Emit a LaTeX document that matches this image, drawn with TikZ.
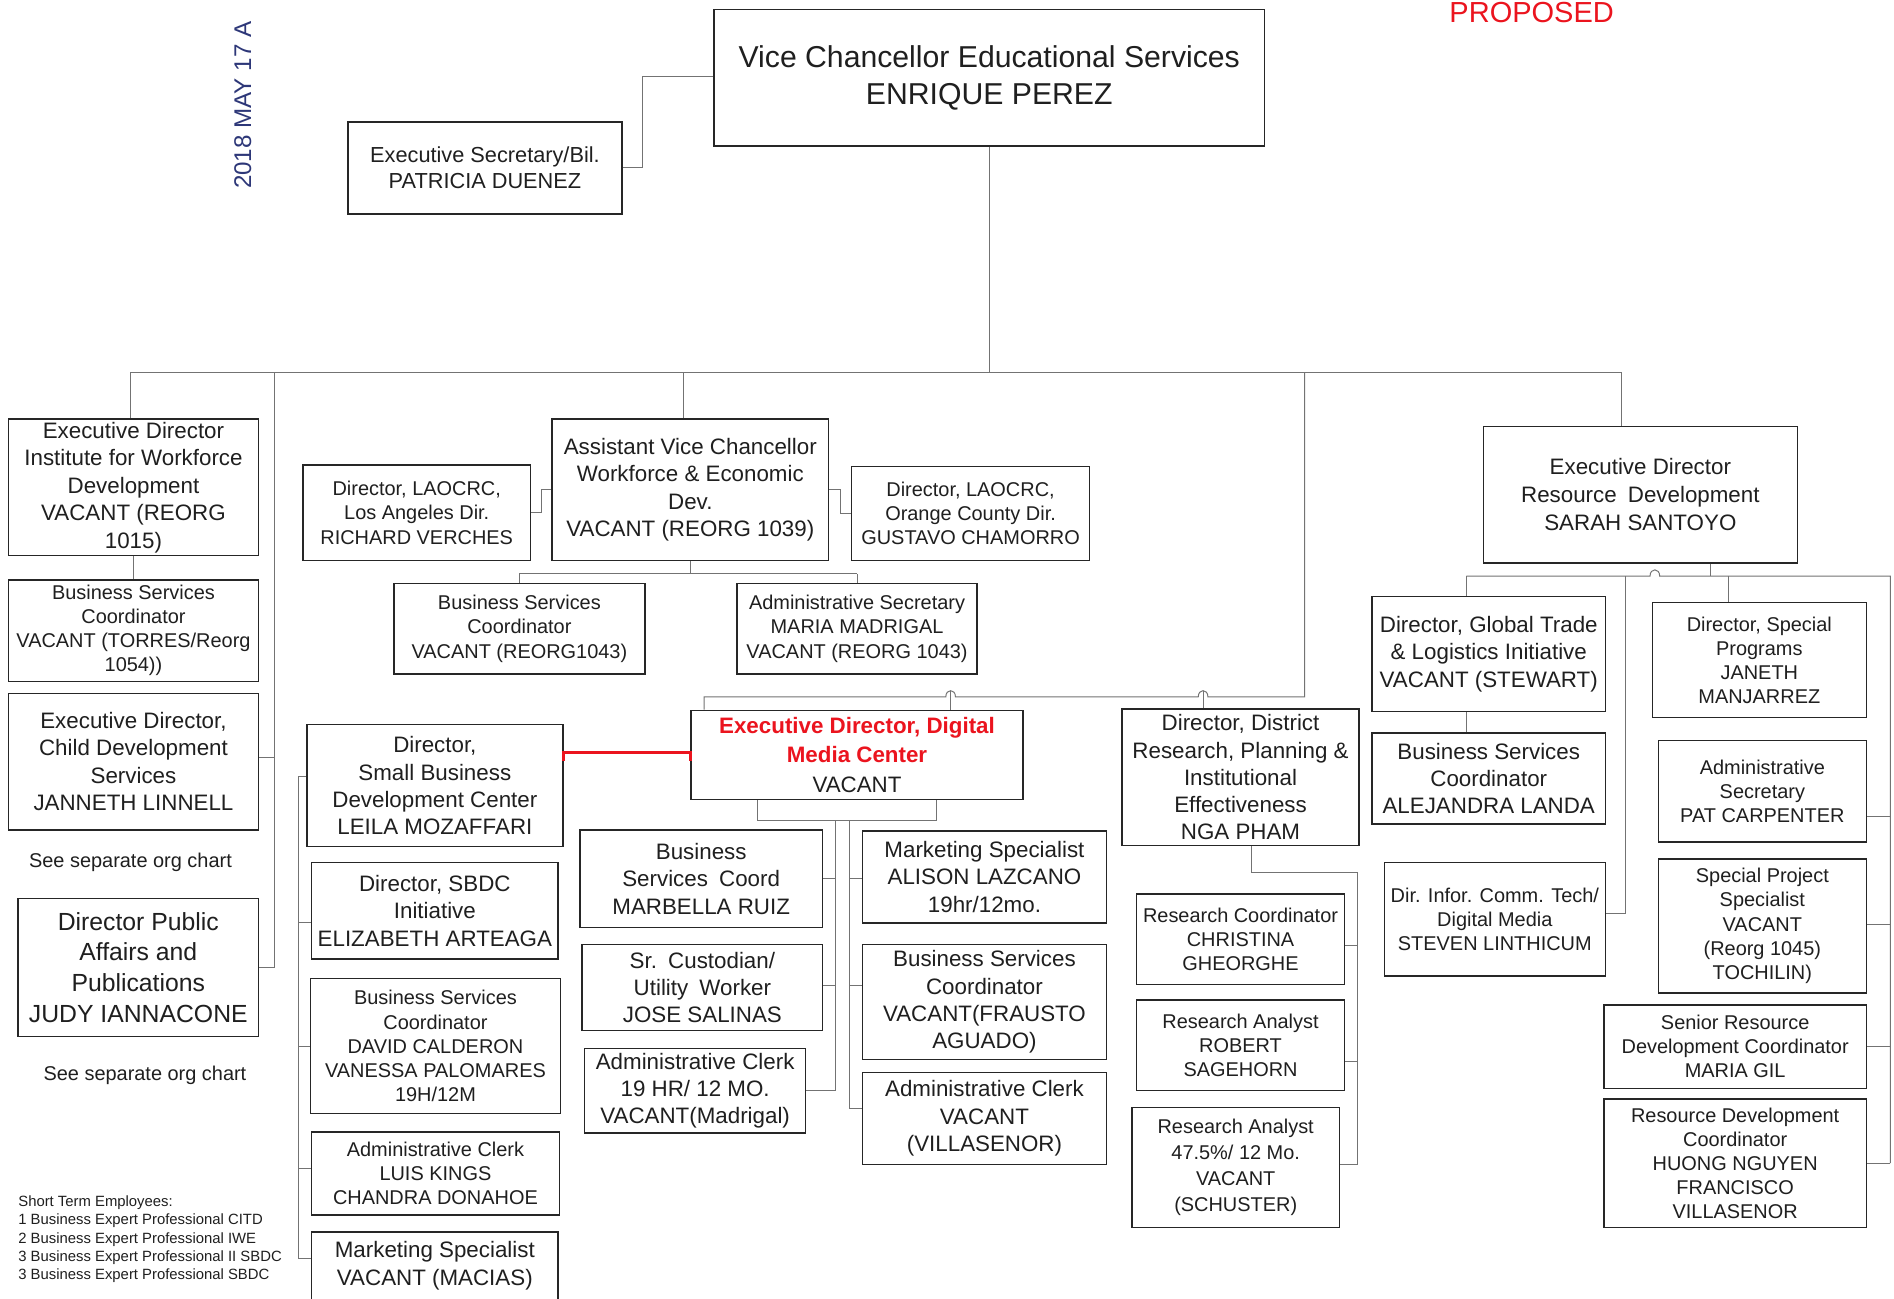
\documentclass[tikz,border=0pt]{standalone}
\usepackage{fontspec}
\setmainfont{Liberation Sans}
\definecolor{dmred}{RGB}{235,20,30}
\definecolor{stampblue}{RGB}{45,55,120}
\tikzset{
  box/.style={draw=black!85, line width=1.2pt, align=center, inner sep=0pt, text=black!88, fill=white},
  fA/.style={font=\fontsize{18.5}{22.7}\selectfont},
  fB/.style={font=\fontsize{16.5}{20}\selectfont},
  note/.style={font=\fontsize{16.5}{20}\selectfont, text=black!88},
  conn/.style={draw=black!55, line width=0.8pt},
  redline/.style={draw=dmred, line width=2.4pt},
}
\newcommand\obox[7]{\node[box,#7,minimum width={#4-#2},minimum height={#5-#3}] (#1) at ({(#2+#4)/2},{(#3+#5)/2}) {#6};}
\begin{document}
\begin{tikzpicture}[x=1pt,y=-1pt]
\path[use as bounding box] (0,0) rectangle (1568,1075);
\clip (0,0) rectangle (1568,1075);
\fill[white] (0,0) rectangle (1568,1075);

% stamp and title
\node[rotate=90, anchor=west, font=\fontsize{20}{24}\selectfont, text=stampblue] (stamp) at (201,160) {2018 MAY 17 A};
\node[font=\fontsize{24}{30}\selectfont, text=dmred, anchor=base] (prop) at (1268,19) {PROPOSED};

% boxes
\obox{vc}{591}{8}{1047}{121}{Vice Chancellor Educational Services\\ENRIQUE PEREZ}{font=\fontsize{25}{30}\selectfont}
\obox{es}{288}{101}{515}{177}{Executive Secretary/Bil.\\PATRICIA DUENEZ}{font=\fontsize{18}{22}\selectfont}
\obox{iwd}{7}{347}{214}{460}{Executive Director\\Institute for Workforce\\Development\\VACANT (REORG\\1015)}{fA}
\obox{bsc1}{7}{480}{214}{564}{Business Services\\Coordinator\\VACANT (TORRES/Reorg\\1054))}{fB}
\obox{cds}{7}{574}{214}{687}{Executive Director,\\Child Development\\Services\\JANNETH LINNELL}{fA}
\obox{pa}{15}{744}{214}{858}{Director Public\\Affairs and\\Publications\\JUDY IANNACONE}{font=\fontsize{20.5}{25.5}\selectfont}
\node[note] (sep1) at (108,714) {See separate org chart};
\node[note] (sep2) at (120,890) {See separate org chart};
\node[anchor=north west, align=left, inner sep=0pt, text=black!88, font=\fontsize{12.3}{15}\selectfont] (ste) at (15,990)
 {Short Term Employees:\\1 Business Expert Professional CITD\\2 Business Expert Professional IWE\\3 Business Expert Professional II SBDC\\3 Business Expert Professional SBDC};

\obox{lao1}{251}{385}{439}{464}{Director, LAOCRC,\\Los Angeles Dir.\\RICHARD VERCHES}{fB}
\obox{avc}{457}{347}{686}{464}{Assistant Vice Chancellor\\Workforce \& Economic\\Dev.\\VACANT (REORG 1039)}{fA}
\obox{lao2}{705}{386}{902}{464}{Director, LAOCRC,\\Orange County Dir.\\GUSTAVO CHAMORRO}{fB}
\obox{bsc2}{326}{483}{534}{558}{Business Services\\Coordinator\\VACANT (REORG1043)}{fB}
\obox{asec1}{610}{483}{809}{558}{Administrative Secretary\\MARIA MADRIGAL\\VACANT (REORG 1043)}{fB}

\obox{sbdc}{254}{600}{466}{701}{Director,\\Small Business\\Development Center\\LEILA MOZAFFARI}{fA}
\obox{sbdci}{258}{714}{462}{794}{Director, SBDC\\Initiative\\ELIZABETH ARTEAGA}{fA}
\obox{bsc3}{257}{810}{464}{922}{Business Services\\Coordinator\\DAVID CALDERON\\VANESSA PALOMARES\\19H/12M}{fB}
\obox{ac1}{258}{937}{463}{1006}{Administrative Clerk\\LUIS KINGS\\CHANDRA DONAHOE}{fB}
\obox{ms1}{258}{1020}{462}{1076}{Marketing Specialist\\VACANT (MACIAS)}{fA}

\obox{dm}{572}{588}{847}{662}{{\color{dmred}\bfseries Executive Director, Digital}\\{\color{dmred}\bfseries Media Center}\\VACANT}{font=\fontsize{18.5}{24.5}\selectfont}
\obox{bcoord}{480}{687}{681}{768}{Business\\Services\enspace Coord\\MARBELLA RUIZ}{fA}
\obox{cust}{482}{782}{681}{853}{Sr.\enspace Custodian/\\Utility\enspace Worker\\JOSE SALINAS}{fA}
\obox{ac2}{484}{868}{667}{938}{Administrative Clerk\\19 HR/ 12 MO.\\VACANT(Madrigal)}{fA}
\obox{ms2}{714}{688}{916}{764}{Marketing Specialist\\ALISON LAZCANO\\19hr/12mo.}{fA}
\obox{bsc4}{714}{782}{916}{877}{Business Services\\Coordinator\\VACANT(FRAUSTO\\AGUADO)}{fA}
\obox{ac3}{714}{888}{916}{964}{Administrative Clerk\\VACANT\\(VILLASENOR)}{fA}

\obox{dr}{929}{587}{1125}{700}{Director, District\\Research, Planning \&\\Institutional\\Effectiveness\\NGA PHAM}{font=\fontsize{18.5}{22.5}\selectfont}
\obox{rc}{941}{740}{1113}{815}{Research Coordinator\\CHRISTINA\\GHEORGHE}{fB}
\obox{ra1}{941}{828}{1113}{903}{Research Analyst\\ROBERT\\SAGEHORN}{fB}
\obox{ra2}{937}{917}{1109}{1016}{Research Analyst\\47.5\%/ 12 Mo.\\VACANT\\(SCHUSTER)}{font=\fontsize{16.5}{21.5}\selectfont}

\obox{rd}{1228}{353}{1488}{466}{Executive Director\\Resource\enspace Development\\SARAH SANTOYO}{font=\fontsize{18.5}{23}\selectfont}
\obox{gt}{1136}{494}{1329}{589}{Director, Global Trade\\\& Logistics Initiative\\VACANT (STEWART)}{fA}
\obox{bsc5}{1136}{607}{1329}{682}{Business Services\\Coordinator\\ALEJANDRA LANDA}{fA}
\obox{dict}{1146}{714}{1329}{808}{Dir. Infor. Comm. Tech/\\Digital Media\\STEVEN LINTHICUM}{fB}
\obox{spp}{1368}{499}{1545}{594}{Director, Special\\Programs\\JANETH\\MANJARREZ}{fB}
\obox{asec}{1373}{613}{1545}{697}{Administrative\\Secretary\\PAT CARPENTER}{fB}
\obox{spj}{1373}{711}{1545}{822}{Special Project\\Specialist\\VACANT\\(Reorg 1045)\\TOCHILIN)}{fB}
\obox{srd}{1328}{832}{1545}{901}{Senior Resource\\Development Coordinator\\MARIA GIL}{fB}
\obox{rdc}{1328}{910}{1545}{1016}{Resource Development\\Coordinator\\HUONG NGUYEN\\FRANCISCO\\VILLASENOR}{fB}

% connectors: top
\coordinate (j0) at (532,63);
\draw[conn] (es.east) -| (j0) -- (vc.west |- j0);
\coordinate (bus) at (819,308);
\coordinate (bL) at (108,308);
\coordinate (bR) at (1342,308);
\coordinate (b2) at (227,308);
\coordinate (b2e) at (227,801);
\coordinate (b3) at (566,308);
\coordinate (b4) at (1080,308);
\draw[conn] (vc.south) -- (vc.south |- bus);
\draw[conn] (bL) -- (bR);
\draw[conn] (bL) -- (bL |- iwd.north);
\draw[conn] (b2) -- (b2e);
\draw[conn] (cds.east |- 0,627) -- (b2 |- 0,627);
\draw[conn] (pa.east |- b2e) -- (b2e);
\draw[conn] (b3) -- (b3 |- avc.north);
\draw[conn] (bR) -- (bR |- rd.north);
\draw[conn] (iwd.south) -- (bsc1.north);

% branch to digital media / district research
\coordinate (dmbus) at (1080,577);
\draw[conn] (b4) -- (dmbus) -- (1000,577) .. controls (1000,570) and (992,570) .. (992,577) -- (791,577) .. controls (791,570) and (783,570) .. (783,577) -- (583,577) -- (dm.north -| 583,0);
\draw[conn] (996,572) -- (dr.north -| 996,0);
\draw[conn] (787,572) -- (dm.north -| 787,0);

% AVC
\draw[conn] (lao1.east) -- ++(9,0) |- (avc.west |- 0,405);
\draw[conn] (avc.east |- 0,405) -- ++(9,0) |- (lao2.west);
\coordinate (avcj) at (571.5,475);
\draw[conn] (avc.south) -- (avc.south |- avcj);
\draw[conn] (bsc2.north |- avcj) -- (asec1.north |- avcj);
\draw[conn] (bsc2.north |- avcj) -- (bsc2.north);
\draw[conn] (asec1.north |- avcj) -- (asec1.north);

% SBDC column
\coordinate (sv) at (247,643);
\coordinate (sve) at (247,1042);
\draw[conn] (sv) -- (sve);
\foreach \n/\y in {sbdc/643, sbdci/764, bsc3/866, ac1/967, ms1/1042}
  \draw[conn] (sv |- 0,\y) -- (\n.west |- 0,\y);

% red link
\draw[redline] (sbdc.east |- 0,630) -- (sbdc.east |- 0,623) -- (dm.west |- 0,623) -- (dm.west |- 0,630);

% DM children
\coordinate (dmL) at (627,679);
\coordinate (dmR) at (775,679);
\coordinate (tl) at (692,679);
\coordinate (tr) at (703,679);
\draw[conn] (dm.south -| dmL) -- (dmL) -- (dmR) -- (dm.south -| dmR);
\draw[conn] (tl) -- (tl |- 0,903);
\draw[conn] (tr) -- (tr |- 0,918);
\foreach \n/\y in {bcoord/727, cust/816, ac2/903}
  \draw[conn] (\n.east |- 0,\y) -- (tl |- 0,\y);
\foreach \n/\y in {ms2/727, bsc4/816, ac3/918}
  \draw[conn] (tr |- 0,\y) -- (\n.west |- 0,\y);

% District research
\coordinate (drj) at (1036,722);
\coordinate (drv) at (1124,722);
\draw[conn] (dr.south -| drj) -- (drj) -- (drv) -- (drv |- 0,964);
\foreach \n/\y in {rc/783, ra1/879, ra2/964}
  \draw[conn] (\n.east |- 0,\y) -- (drv |- 0,\y);

% Resource development
\coordinate (rdh) at (1416,477);
\coordinate (rdl) at (1214,477);
\coordinate (rdr) at (1565,477);
\coordinate (rdm) at (1346,477);
\coordinate (rds) at (1431,477);
\draw[conn] (rd.south -| rdh) -- (rdh);
\draw[conn] (rdl) -- (1366,477) .. controls (1366,470) and (1374,470) .. (1374,477) -- (rdr) -- (rdr |- 0,963);
\draw[conn] (rdl) -- (gt.north -| rdl);
\draw[conn] (rds) -- (spp.north -| rds);
\draw[conn] (gt.south -| rdl) -- (bsc5.north -| rdl);
\draw[conn] (rdm) -- (rdm |- 0,756) -- (dict.east |- 0,756);
\foreach \n/\y in {asec/676, spj/765, srd/866, rdc/963}
  \draw[conn] (\n.east |- 0,\y) -- (rdr |- 0,\y);
\end{tikzpicture}
\end{document}
